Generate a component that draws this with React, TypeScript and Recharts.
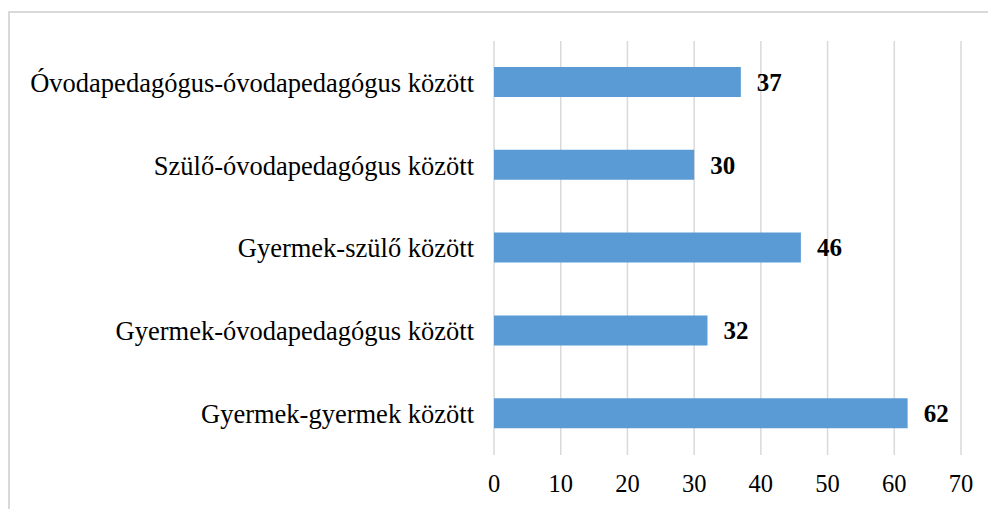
import { Bar, BarChart, CartesianGrid, LabelList, XAxis, YAxis } from "recharts";

const categories = [
  "Óvodapedagógus-óvodapedagógus között",
  "Szülő-óvodapedagógus között",
  "Gyermek-szülő között",
  "Gyermek-óvodapedagógus között",
  "Gyermek-gyermek között",
];
const values = [37, 30, 46, 32, 62];
const xTicks = [0, 10, 20, 30, 40, 50, 60, 70];

const data = categories.map((name, i) => ({ name, value: values[i] }));

const font = "'Liberation Serif', 'Times New Roman', serif";

export default function App() {
  return (
    <div style={{ position: "absolute", left: 0, top: 0, width: 988, height: 509, overflow: "hidden", background: "#fff" }}>
      <div
        style={{
          position: "absolute",
          left: 8,
          top: 11,
          width: 1000,
          height: 520,
          border: "2px solid #d9d9d9",
          boxSizing: "border-box",
        }}
      />
      <div style={{ position: "absolute", left: 0, top: 0 }}>
        <BarChart
          width={988}
          height={509}
          data={data}
          layout="vertical"
          margin={{ top: 41, right: 27, bottom: 0, left: 0 }}
          style={{ fontFamily: font }}
        >
          <CartesianGrid horizontal={false} stroke="#d9d9d9" strokeWidth={1.5} />
          <XAxis
            type="number"
            domain={[0, 70]}
            ticks={xTicks}
            axisLine={false}
            tickLine={false}
            height={54}
            tickSize={0}
            tickMargin={20}
            tick={{ fill: "#000", fontSize: 24.5, fontFamily: font }}
            interval={0}
          />
          <YAxis
            type="category"
            dataKey="name"
            width={494}
            axisLine={false}
            tickLine={false}
            tickSize={0}
            tickMargin={20}
            tick={{ fill: "#000", fontSize: 26.5, fontFamily: font }}
            interval={0}
          />
          <Bar dataKey="value" fill="#5b9bd5" barSize={30} isAnimationActive={false}>
            <LabelList
              dataKey="value"
              position="right"
              offset={16}
              style={{ fill: "#000", fontSize: 25, fontWeight: "bold", fontFamily: font }}
            />
          </Bar>
        </BarChart>
      </div>
    </div>
  );
}
